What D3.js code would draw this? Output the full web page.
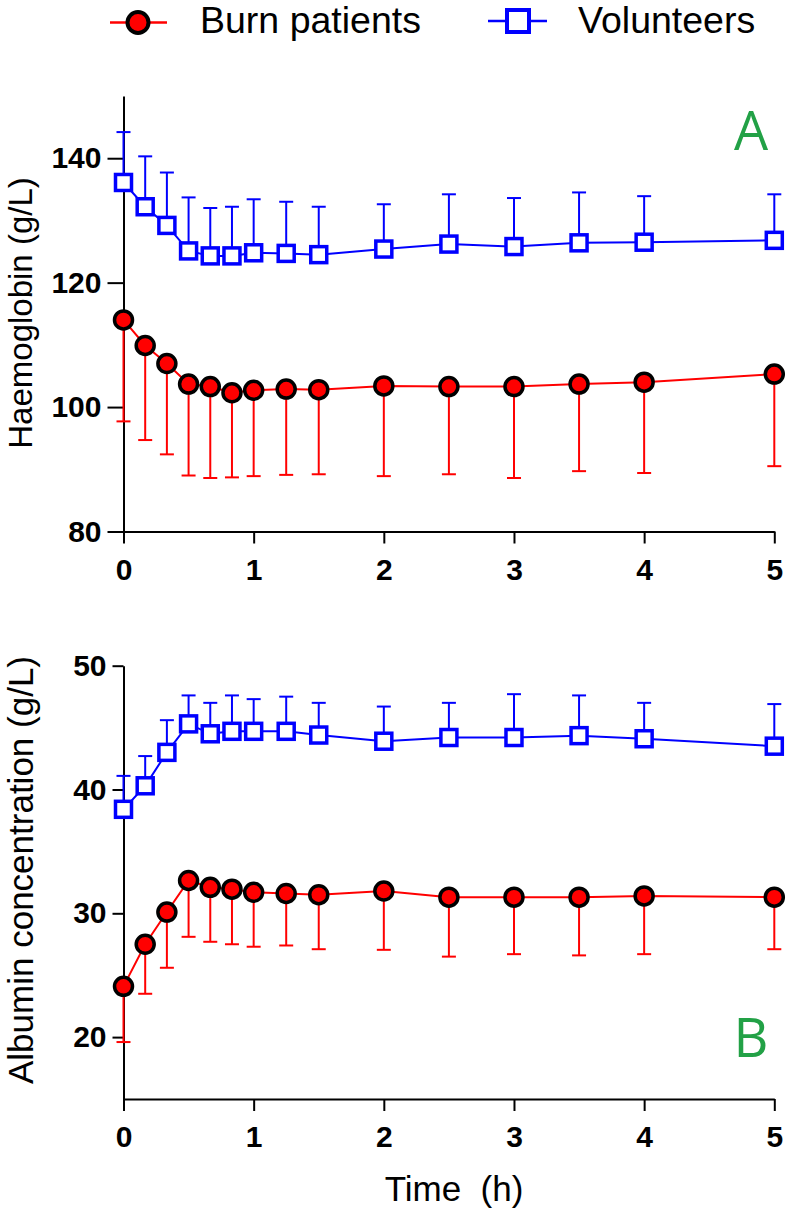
<!DOCTYPE html>
<html>
<head>
<meta charset="utf-8">
<script src="https://cdn.jsdelivr.net/npm/d3@7"></script>
<style>
  body { margin: 0; background: #fff; }
  svg { display: block; }
  .tick text { font-family: "Liberation Sans", Arial, sans-serif; font-weight: bold; }
</style>
</head>
<body>
<div id="chart"></div>
<script>
// sampling times (h)
var times = [0, 1/6, 1/3, 0.5, 2/3, 5/6, 1, 1.25, 1.5, 2, 2.5, 3, 3.5, 4, 5];

// Panel A - haemoglobin (g/L)
var hbBurn      = [114.0, 109.9, 107.0, 103.7, 103.3, 102.3, 102.7, 102.9, 102.8, 103.4, 103.3, 103.3, 103.7, 104.0, 105.3];
var hbBurnLow   = [97.7, 94.7, 92.4, 89.0, 88.6, 88.7, 88.9, 89.1, 89.2, 88.9, 89.2, 88.6, 89.7, 89.4, 90.5];
var hbVol       = [136.1, 132.2, 129.2, 125.1, 124.3, 124.3, 124.8, 124.7, 124.5, 125.4, 126.2, 125.8, 126.4, 126.5, 126.8];
var hbVolHigh   = [144.2, 140.3, 137.7, 133.7, 132.0, 132.2, 133.4, 133.0, 132.2, 132.6, 134.2, 133.6, 134.5, 133.9, 134.2];

// Panel B - albumin (g/L)
var albBurn     = [24.1, 27.5, 30.1, 32.65, 32.1, 31.95, 31.7, 31.6, 31.5, 31.8, 31.3, 31.3, 31.3, 31.4, 31.3];
var albBurnLow  = [19.6, 23.5, 25.6, 28.1, 27.7, 27.5, 27.3, 27.4, 27.1, 27.05, 26.5, 26.7, 26.6, 26.7, 27.1];
var albVol      = [38.4, 40.3, 43.0, 45.3, 44.5, 44.7, 44.7, 44.7, 44.4, 43.9, 44.2, 44.2, 44.35, 44.1, 43.5];
var albVolHigh  = [41.1, 42.7, 45.6, 47.6, 47.0, 47.6, 47.3, 47.5, 47.0, 46.7, 47.0, 47.7, 47.6, 47.0, 46.9];

var xTicks = [0, 1, 2, 3, 4, 5];
var hbTicks = [80, 100, 120, 140];
var albTicks = [20, 30, 40, 50];

var W = 787, H = 1214;
var RED = "#ff0000", BLUE = "#0000ff", GREEN = "#22a146";
var FONT = "'Liberation Sans', Arial, sans-serif";

var svg = d3.select("#chart").append("svg")
    .attr("width", W)
    .attr("height", H);

var x = d3.scaleLinear().domain([0, 5]).range([123.5, 774.3]);

function panel(opts) {
    var y = d3.scaleLinear().domain(opts.domain).range(opts.range);
    var g = svg.append("g");

    // axes
    var yAxis = g.append("g")
        .attr("transform", "translate(" + x(0) + ",0)")
        .call(d3.axisLeft(y).tickValues(opts.ticks).tickFormat(d3.format("d"))
            .tickSize(opts.yTick).tickSizeOuter(0).tickPadding(6));
    var xAxis = g.append("g")
        .attr("transform", "translate(0," + opts.range[0] + ")")
        .call(d3.axisBottom(x).tickValues(xTicks).tickFormat(d3.format("d"))
            .tickSize(12).tickSizeOuter(0).tickPadding(15));
    [yAxis, xAxis].forEach(function(a) {
        a.selectAll("path, line").attr("stroke", "#000").attr("stroke-width", 2);
        a.selectAll("text").attr("font-size", 30).attr("fill", "#000");
    });

    // y title
    g.append("text")
        .attr("transform", "translate(" + opts.titleX + "," + opts.titleY + ") rotate(-90)")
        .attr("text-anchor", "middle")
        .attr("font-family", FONT)
        .attr("font-size", opts.titleSize)
        .text(opts.title);

    // panel letter
    g.append("text")
        .attr("x", 751).attr("y", opts.letterY)
        .attr("text-anchor", "middle")
        .attr("font-family", "'Open Sans', 'Noto Sans', sans-serif")
        .attr("font-size", 54)
        .attr("fill", GREEN)
        .text(opts.letter);

    var line = d3.line().x(function(d) { return x(d[0]); }).y(function(d) { return y(d[1]); });

    // error bars
    function errBars(vals, ends, color) {
        var eb = g.append("g").attr("stroke", color).attr("stroke-width", 2);
        times.forEach(function(t, i) {
            eb.append("line").attr("x1", x(t)).attr("x2", x(t)).attr("y1", y(vals[i])).attr("y2", y(ends[i]));
            eb.append("line").attr("x1", x(t) - 7).attr("x2", x(t) + 7).attr("y1", y(ends[i])).attr("y2", y(ends[i]));
        });
    }
    errBars(opts.vol, opts.volErr, BLUE);
    errBars(opts.burn, opts.burnErr, RED);

    g.append("path")
        .datum(times.map(function(t, i) { return [t, opts.vol[i]]; }))
        .attr("d", line).attr("fill", "none").attr("stroke", BLUE).attr("stroke-width", 2);
    g.append("path")
        .datum(times.map(function(t, i) { return [t, opts.burn[i]]; }))
        .attr("d", line).attr("fill", "none").attr("stroke", RED).attr("stroke-width", 2);

    g.selectAll(".sq").data(opts.vol).enter().append("rect")
        .attr("x", function(d, i) { return x(times[i]) - 8; })
        .attr("y", function(d) { return y(d) - 8; })
        .attr("width", 16).attr("height", 16)
        .attr("fill", "#fff").attr("stroke", BLUE).attr("stroke-width", 3.5);
    g.selectAll(".ci").data(opts.burn).enter().append("circle")
        .attr("cx", function(d, i) { return x(times[i]); })
        .attr("cy", function(d) { return y(d); })
        .attr("r", 9)
        .attr("fill", RED).attr("stroke", "#000").attr("stroke-width", 3.5);
}

panel({
    domain: [80, 150], range: [531.5, 96], ticks: hbTicks, yTick: 16,
    vol: hbVol, volErr: hbVolHigh, burn: hbBurn, burnErr: hbBurnLow,
    title: "Haemoglobin (g/L)", titleX: 32, titleY: 313, titleSize: 33,
    letter: "A", letterY: 150
});
panel({
    domain: [15, 50], range: [1099, 665.7], ticks: albTicks, yTick: 11,
    vol: albVol, volErr: albVolHigh, burn: albBurn, burnErr: albBurnLow,
    title: "Albumin concentration (g/L)", titleX: 33, titleY: 870, titleSize: 35,
    letter: "B", letterY: 1057
});

// x title
svg.append("text")
    .attr("x", 454).attr("y", 1201)
    .attr("text-anchor", "middle")
    .attr("font-family", FONT)
    .attr("font-size", 35)
    .attr("xml:space", "preserve")
    .style("white-space", "pre")
    .text("Time  (h)");

// legend
var leg = svg.append("g");
leg.append("line").attr("x1", 110).attr("x2", 167).attr("y1", 22.5).attr("y2", 22.5)
    .attr("stroke", RED).attr("stroke-width", 2.5);
leg.append("circle").attr("cx", 138).attr("cy", 22.5).attr("r", 10.5)
    .attr("fill", RED).attr("stroke", "#000").attr("stroke-width", 4);
leg.append("text").attr("x", 200).attr("y", 33)
    .attr("font-family", FONT).attr("font-size", 37.5).text("Burn patients");
leg.append("line").attr("x1", 488).attr("x2", 547).attr("y1", 21).attr("y2", 21)
    .attr("stroke", BLUE).attr("stroke-width", 2.5);
leg.append("rect").attr("x", 507).attr("y", 10).attr("width", 22).attr("height", 22)
    .attr("fill", "#fff").attr("stroke", BLUE).attr("stroke-width", 4);
leg.append("text").attr("x", 578).attr("y", 33)
    .attr("font-family", FONT).attr("font-size", 37.5).text("Volunteers");
</script>
</body>
</html>
